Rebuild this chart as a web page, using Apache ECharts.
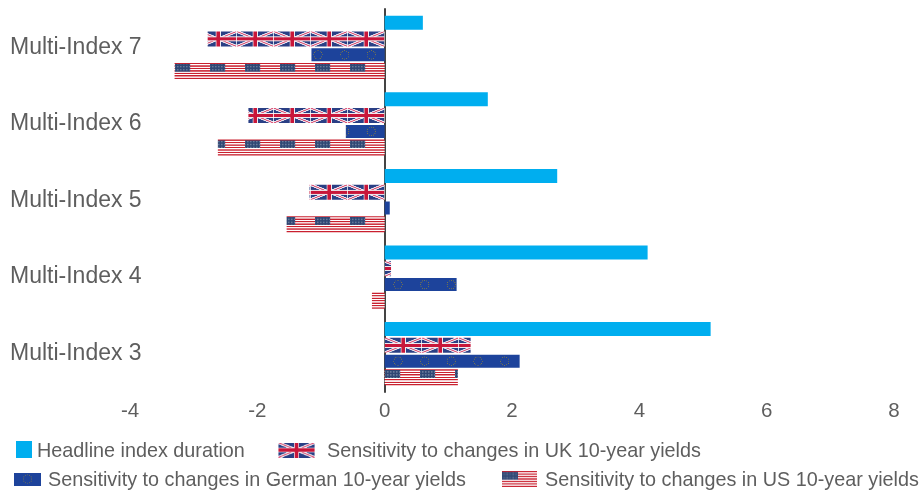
<!DOCTYPE html>
<html>
<head>
<meta charset="utf-8">
<style>
  html, body { margin: 0; padding: 0; background: #fff; }
  #chart { width: 921px; height: 491px; }
</style>
<script src="https://cdn.jsdelivr.net/npm/echarts@6/dist/echarts.min.js"></script>
</head>
<body>
<div id="chart"></div>
<script>
// chart data
var categories = ['Multi-Index 7', 'Multi-Index 6', 'Multi-Index 5', 'Multi-Index 4', 'Multi-Index 3'];
var headline = [0.6, 1.62, 2.71, 4.13, 5.12];
var ukYields = [-2.78, -2.14, -1.18, 0.1, 1.35];
var germanYields = [-1.15, -0.61, 0.08, 1.13, 2.12];
var usYields = [-3.3, -2.62, -1.54, -0.2, 1.15];

var names = [
  'Headline index duration',
  'Sensitivity to changes in UK 10-year yields',
  'Sensitivity to changes in German 10-year yields',
  'Sensitivity to changes in US 10-year yields'
];

var textColor = '#5e5e5e';
var fontName = '"Liberation Sans"';
var SCALE = 3; // flag tiles are drawn 3x and scaled down in the pattern

function makeTile(w, h, draw) {
  var c = document.createElement('canvas');
  c.width = Math.round(w * SCALE);
  c.height = Math.round(h * SCALE);
  var ctx = c.getContext('2d');
  ctx.scale(SCALE, SCALE);
  draw(ctx, w, h);
  return c;
}

function drawUk(ctx, w, h) {
  ctx.fillStyle = '#2a3f85';
  ctx.fillRect(0, 0, w, h);
  ctx.strokeStyle = '#ece6ee';
  ctx.lineWidth = 3;
  ctx.beginPath();
  ctx.moveTo(0, 0); ctx.lineTo(w, h);
  ctx.moveTo(w, 0); ctx.lineTo(0, h);
  ctx.stroke();
  ctx.strokeStyle = '#dc5478';
  ctx.lineWidth = 1;
  ctx.stroke();
  ctx.fillStyle = '#efe9ee';
  ctx.fillRect(w / 2 - 2.6, 0, 5.2, h);
  ctx.fillRect(0, h / 2 - 2.5, w, 5);
  ctx.fillStyle = '#c8163a';
  ctx.fillRect(w / 2 - 1.7, 0, 3.4, h);
  ctx.fillRect(0, h / 2 - 1.5, w, 3);
  // pale seam between tiles
  ctx.fillStyle = 'rgba(255,255,255,0.8)';
  ctx.fillRect(0, 0, 0.5, h);
  ctx.fillRect(w - 0.5, 0, 0.5, h);
}

function drawEu(ctx, w, h) {
  ctx.fillStyle = '#1d439b';
  ctx.fillRect(0, 0, w, h);
  ctx.fillStyle = '#77754f';
  for (var i = 0; i < 12; i++) {
    var a = i / 12 * Math.PI * 2;
    ctx.beginPath();
    ctx.arc(w / 2 + Math.cos(a) * 4.2, h / 2 + Math.sin(a) * 4.2, 0.55, 0, Math.PI * 2);
    ctx.fill();
  }
}

function drawUs(ctx, w, h) {
  ctx.fillStyle = '#fff';
  ctx.fillRect(0, 0, w, h);
  ctx.fillStyle = '#c9202f';
  var s = h / 13;
  for (var i = 0; i < 13; i += 2) ctx.fillRect(0, i * s, w, s);
  ctx.fillStyle = '#2f4774';
  ctx.fillRect(0, 0.9, 15.7, s * 7 - 0.9);
  ctx.fillStyle = '#6d7f9f';
  for (var x = 0.8; x < 15; x += 1.5) {
    for (var y = 1.6; y < s * 7 - 0.4; y += 1.5) {
      ctx.fillRect(x, y, 0.7, 0.7);
    }
  }
}

var ukTile = makeTile(37, 15, drawUk);
var euTile = makeTile(26.67, 13, drawEu);
var usTile = makeTile(35, 16, drawUs);
var barSizes = [14, 15, 13, 16];
var seriesData = [headline, ukYields, germanYields, usYields];
var tiles = [null, ukTile, euTile, usTile];

function legendItem(i, left, top, w, h, pad, icon, dropText) {
  return {
    left: left, top: top, padding: 0,
    itemWidth: w, itemHeight: h,
    selectedMode: false,
    formatter: '{t|{name}}',
    textStyle: {
      color: textColor, fontSize: 19.8, fontFamily: fontName,
      rich: {
        t: {
          color: textColor, fontSize: 19.8, fontFamily: fontName,
          padding: [dropText * 2, 0, 0, pad]
        }
      }
    },
    data: [{ name: names[i], icon: icon }]
  };
}

var chart = echarts.init(document.getElementById('chart'), null, { renderer: 'canvas' });

chart.setOption({
  animation: false,
  grid: { left: 130, right: 27, top: 9, bottom: 99, outerBoundsMode: 'none' },
  legend: [
    legendItem(0, 16, 441, 16, 17, 0, 'rect', 2),
    legendItem(1, 278, 442, 37, 15, 7, 'image://' + ukTile.toDataURL(), 2),
    legendItem(2, 14, 471, 27, 13, 2, 'image://' + euTile.toDataURL(), 2),
    legendItem(3, 502, 471, 35, 16, 3, 'image://' + usTile.toDataURL(), 2)
  ],
  xAxis: {
    type: 'value', min: -4, max: 8, interval: 2,
    splitLine: { show: false },
    axisLine: { show: false },
    axisTick: { show: false },
    axisLabel: { color: textColor, fontSize: 20.5, fontFamily: fontName, margin: 9 }
  },
  yAxis: {
    type: 'category', inverse: true, data: categories,
    axisTick: { show: false },
    axisLine: { onZero: true, lineStyle: { color: '#444', width: 2 } },
    axisLabel: { color: textColor, fontSize: 23, fontFamily: fontName, align: 'left', margin: 120 }
  },
  series: names.map(function (name, i) {
    return {
      name: name, type: 'bar',
      barWidth: barSizes[i], barGap: '12.5%',
      itemStyle: { color: '#00aeef' },
      data: seriesData[i]
    };
  })
});

// second pass: anchor each flag pattern at the zero line and the top of its own bar
var zeroX = chart.convertToPixel({ xAxisIndex: 0 }, 0);
chart.setOption({
  series: names.map(function (name, i) {
    var layoutData = chart.getModel().getSeriesByIndex(i).getData();
    return {
      data: seriesData[i].map(function (v, j) {
        if (!tiles[i]) return v;
        var l = layoutData.getItemLayout(j);
        return {
          value: v,
          itemStyle: {
            color: {
              image: tiles[i], repeat: 'repeat',
              x: zeroX, y: Math.min(l.y, l.y + l.height),
              scaleX: 1 / SCALE, scaleY: 1 / SCALE
            }
          }
        };
      })
    };
  })
});
</script>
</body>
</html>
